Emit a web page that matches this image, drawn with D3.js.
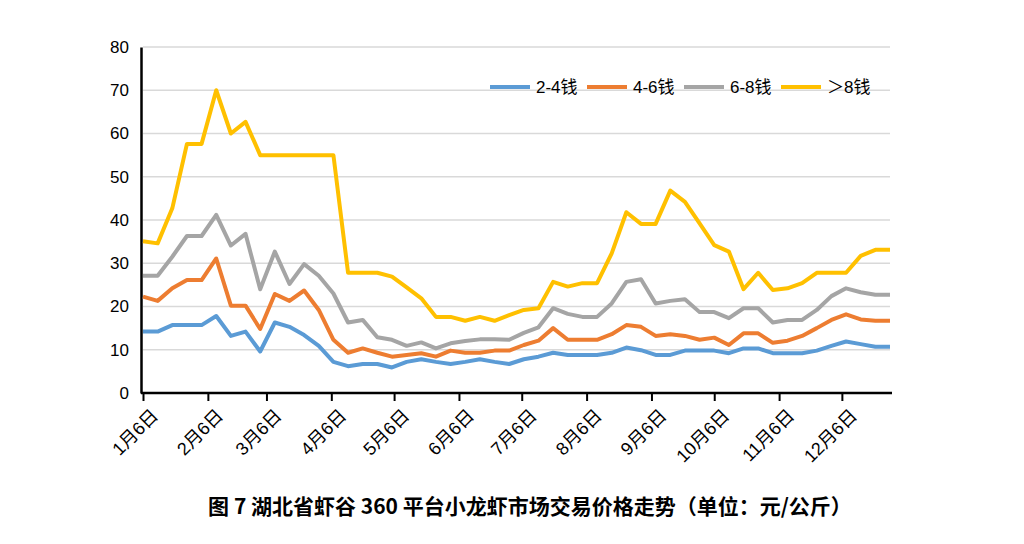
<!DOCTYPE html>
<html><head><meta charset="utf-8">
<script src="https://cdn.jsdelivr.net/npm/d3@7"></script>
<style>body{margin:0;background:#fff}svg{display:block}</style></head>
<body><svg id="c" width="1024" height="544"></svg>
<script>
const seriesNames = ["2-4钱","4-6钱","6-8钱","＞8钱"];
const colors = ["#5B9BD5","#ED7D31","#A5A5A5","#FFC000"];
const yTicks = [0,10,20,30,40,50,60,70,80];
const monthLabels = ["1月6日","2月6日","3月6日","4月6日","5月6日","6月6日","7月6日","8月6日","9月6日","10月6日","11月6日","12月6日"];
const s24 = [14.2,14.2,15.7,15.7,15.7,17.8,13.2,14.2,9.6,16.3,15.3,13.4,10.9,7.2,6.2,6.7,6.7,5.9,7.2,7.8,7.2,6.7,7.2,7.8,7.2,6.7,7.8,8.4,9.3,8.8,8.8,8.8,9.3,10.5,9.9,8.8,8.8,9.8,9.8,9.8,9.2,10.3,10.3,9.2,9.2,9.2,9.8,10.9,11.9,11.3,10.7,10.7];
const s46 = [22.3,21.3,24.2,26.1,26.1,31.1,20.2,20.2,14.8,22.9,21.3,23.7,19.2,12.3,9.3,10.3,9.3,8.4,8.8,9.2,8.4,9.8,9.3,9.3,9.8,9.8,11.1,12.1,15,12.3,12.3,12.3,13.6,15.7,15.3,13.2,13.6,13.2,12.3,12.8,11.1,13.8,13.8,11.6,12.1,13.2,15,16.9,18.2,17,16.7,16.7];
const s68 = [27.1,27.1,31.5,36.3,36.3,41.2,34.1,36.8,24,32.7,25.2,29.8,27.1,23,16.3,16.9,12.9,12.3,10.9,11.7,10.3,11.5,12,12.4,12.4,12.3,13.9,15.2,19.6,18.3,17.6,17.6,20.7,25.7,26.3,20.7,21.3,21.7,18.7,18.7,17.3,19.6,19.6,16.3,16.9,16.9,19.2,22.4,24.2,23.3,22.7,22.7];
const s8 = [35.1,34.6,42.7,57.6,57.6,70,60,62.7,55,55,55,55,55,55,27.8,27.8,27.8,26.9,24.4,21.9,17.6,17.6,16.7,17.6,16.7,18,19.2,19.6,25.7,24.6,25.4,25.4,32.3,41.8,39.1,39.1,46.8,44.2,39.2,34.2,32.7,24,27.8,23.8,24.2,25.4,27.8,27.8,27.8,31.7,33.1,33.1];
const allSeries = [s24,s46,s68,s8];
const start = new Date(2019,0,6);
const dates = s24.map((_,i)=>d3.timeDay.offset(start,7*i));
const tickDates = monthLabels.map((_,i)=>new Date(2019,i,6));

const svg = d3.select("#c");
const x = d3.scaleTime().domain([start, dates[dates.length-1]]).range([143,890]);
const y = d3.scaleLinear().domain([0,80]).range([393,47]);

svg.append("g").selectAll("line").data(yTicks.slice(1)).join("line")
  .attr("x1",143).attr("x2",890).attr("y1",d=>y(d)).attr("y2",d=>y(d))
  .attr("stroke","#d9d9d9").attr("stroke-width",1.5);

const ya = svg.append("g").attr("transform","translate(141,0)")
  .call(d3.axisLeft(y).tickValues(yTicks).tickSize(0).tickPadding(12));
ya.select(".domain").attr("stroke","#000").attr("stroke-width",2.5);
ya.selectAll("text").attr("font-family","Liberation Sans, Arial").attr("font-size",17).attr("fill","#000");

const xa = svg.append("g").attr("transform","translate(0,393)")
  .call(d3.axisBottom(x).tickValues(tickDates).tickSize(8).tickFormat((d,i)=>monthLabels[i]));
xa.select(".domain").attr("stroke","#000").attr("stroke-width",2.5).attr("d","M141,0H892");
xa.selectAll("line").attr("stroke","#000").attr("stroke-width",2);
xa.selectAll("text").attr("font-family","Liberation Sans, Noto Sans CJK SC").attr("font-size",18).attr("fill","#000")
  .attr("text-anchor","end").attr("dy",0).attr("transform","translate(8,16) rotate(-45)");

const line = d3.line().x((d,i)=>x(dates[i])).y(d=>y(d));
svg.append("g").selectAll("path").data(allSeries).join("path")
  .attr("d",line).attr("fill","none").attr("stroke",(d,i)=>colors[i])
  .attr("stroke-width",4).attr("stroke-linejoin","round");

const lg = svg.append("g").selectAll("g").data(seriesNames).join("g")
  .attr("transform",(d,i)=>`translate(${490+i*97},87)`);
lg.append("line").attr("x1",0).attr("x2",40).attr("stroke",(d,i)=>colors[i]).attr("stroke-width",4);
lg.append("text").attr("x",46).attr("y",6).text(d=>d)
  .attr("font-family","Liberation Sans, Noto Sans CJK SC").attr("font-size",17).attr("fill","#000");

svg.append("text").attr("x",530).attr("y",514).attr("text-anchor","middle")
  .attr("font-family","Noto Sans CJK SC").attr("font-weight","bold").attr("font-size",21).attr("fill","#000")
  .text("图 7  湖北省虾谷 360 平台小龙虾市场交易价格走势（单位：元/公斤）");
</script></body></html>
